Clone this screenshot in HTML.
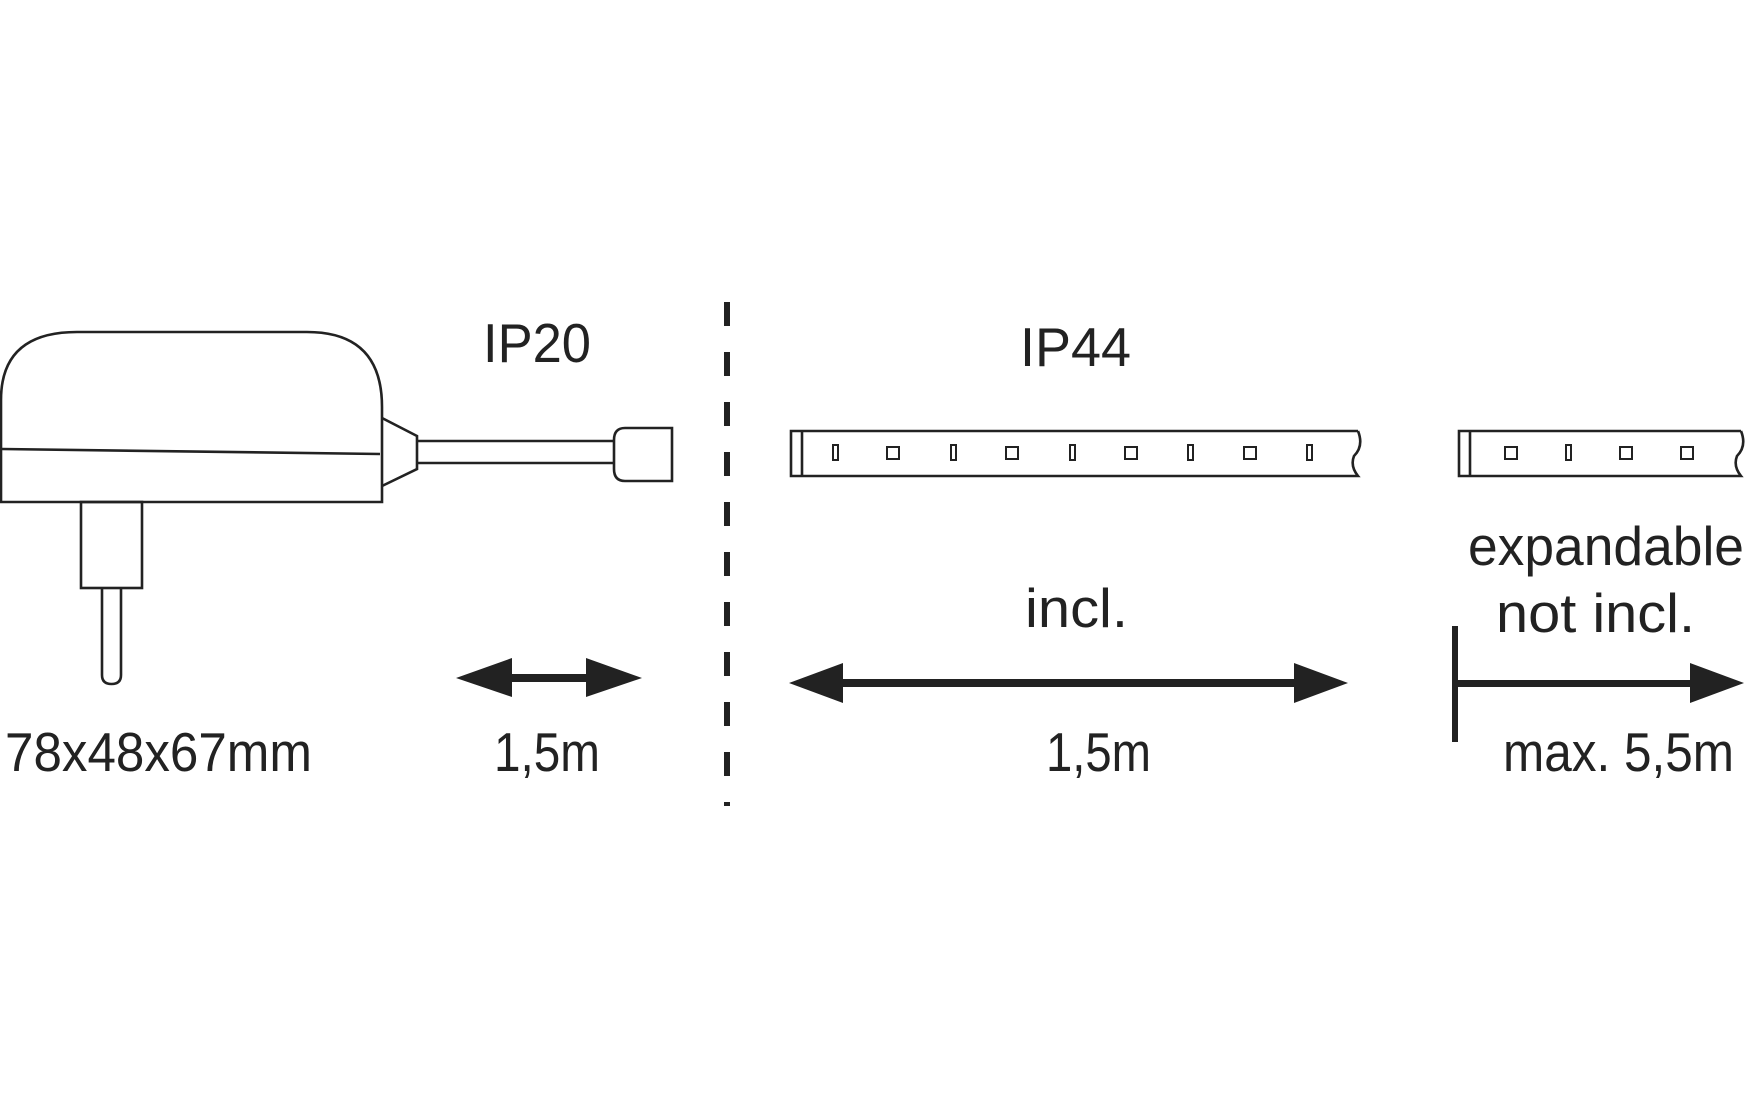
<!DOCTYPE html>
<html><head><meta charset="utf-8"><style>
html,body{margin:0;padding:0;background:#fff}
svg{display:block}
text{font-family:"Liberation Sans",sans-serif;font-size:55px;fill:#222}
</style></head><body>
<svg width="1762" height="1108" viewBox="0 0 1762 1108" xmlns="http://www.w3.org/2000/svg">
<g fill="none" stroke="#222" stroke-width="2.6">
<!-- adapter body -->
<path d="M1,502 L1,400 Q1,332 77,332 L307,332 Q382,332 382,407 L382,502 Z" fill="#fff"/>
<line x1="2" y1="449" x2="380" y2="454"/>
<!-- trapezoid -->
<path d="M382,418 L417,436 L417,469 L382,486"/>
<!-- cable -->
<line x1="417" y1="441" x2="614" y2="441"/>
<line x1="417" y1="463" x2="614" y2="463"/>
<!-- plug end -->
<path d="M672,428 L625,428 Q614,428 614,440 L614,469 Q614,481 625,481 L672,481 Z"/>
<!-- plug -->
<rect x="81" y="502" width="61" height="86"/>
<path d="M102,588 L102,675 Q102,684 111.5,684 Q121,684 121,675 L121,588"/>
<!-- strip 1 -->
<path d="M1358,431 L791,431 L791,476 L1358,476 Q1350,466 1354,456 Q1364,446 1358,431"/>
<line x1="802" y1="431" x2="802" y2="476"/>
<!-- strip 2 -->
<path d="M1741,431 L1459,431 L1459,476 L1741,476 Q1733,466 1737,456 Q1747,446 1741,431"/>
<line x1="1470" y1="431" x2="1470" y2="476"/>
</g>
<g fill="none" stroke="#222" stroke-width="2">
<rect x="833" y="445" width="5" height="15"/>
<rect x="887" y="447" width="12" height="12"/>
<rect x="951" y="445" width="5" height="15"/>
<rect x="1006" y="447" width="12" height="12"/>
<rect x="1070" y="445" width="5" height="15"/>
<rect x="1125" y="447" width="12" height="12"/>
<rect x="1188" y="445" width="5" height="15"/>
<rect x="1244" y="447" width="12" height="12"/>
<rect x="1307" y="445" width="5" height="15"/>
<rect x="1505" y="447" width="12" height="12"/>
<rect x="1566" y="445" width="5" height="15"/>
<rect x="1620" y="447" width="12" height="12"/>
<rect x="1681" y="447" width="12" height="12"/>
</g>
<!-- dashed divider -->
<line x1="727" y1="302" x2="727" y2="806" stroke="#222" stroke-width="6" stroke-dasharray="24,26"/>
<!-- arrows -->
<g fill="#222" stroke="none">
<rect x="505" y="674" width="90" height="8"/>
<polygon points="456,678 512,658 512,697"/>
<polygon points="642,678 586,658 586,697"/>
<rect x="835" y="679" width="470" height="8"/>
<polygon points="789,683 843,663 843,703"/>
<polygon points="1348,683 1294,663 1294,703"/>
<rect x="1452" y="626" width="6" height="116"/>
<rect x="1455" y="680" width="240" height="7"/>
<polygon points="1744,683 1690,663 1690,703"/>
</g>
<text x="483" y="362" textLength="108" lengthAdjust="spacingAndGlyphs">IP20</text>
<text x="1020" y="366" textLength="111" lengthAdjust="spacingAndGlyphs">IP44</text>
<text x="5" y="771" textLength="307" lengthAdjust="spacingAndGlyphs">78x48x67mm</text>
<text x="494" y="771" textLength="106" lengthAdjust="spacingAndGlyphs">1,5m</text>
<text x="1025" y="627" textLength="103" lengthAdjust="spacingAndGlyphs">incl.</text>
<text x="1046" y="771" textLength="105" lengthAdjust="spacingAndGlyphs">1,5m</text>
<text x="1468" y="565" textLength="276" lengthAdjust="spacingAndGlyphs">expandable</text>
<text x="1496" y="632" textLength="199" lengthAdjust="spacingAndGlyphs">not incl.</text>
<text x="1503" y="771" textLength="231" lengthAdjust="spacingAndGlyphs">max. 5,5m</text>
</svg>
</body></html>
